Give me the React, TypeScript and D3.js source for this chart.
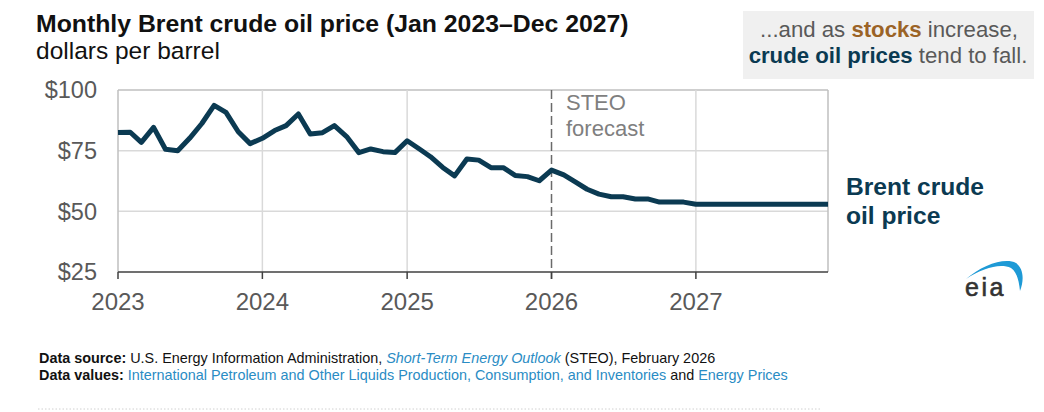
import * as d3 from "d3";

// Brent crude oil spot price, monthly average, dollars per barrel
const historyMonths = d3.timeMonths(new Date(2023, 0, 1), new Date(2026, 1, 1));
const historyPrices = [
  82.5, 82.6, 78.4, 84.6, 75.6, 75.0, 80.1, 86.2, 93.7, 90.8, 82.8, 77.9,
  80.1, 83.3, 85.3, 90.1, 81.9, 82.4, 85.3, 80.8, 74.2, 75.7, 74.6, 74.2,
  79.1, 75.7, 72.5, 68.1, 64.6, 71.6, 71.1, 68.0, 68.0, 64.8, 64.3, 62.6,
  67.0,
];
// STEO forecast, Feb 2026 - Dec 2027
const forecastMonths = d3.timeMonths(new Date(2026, 1, 1), new Date(2028, 0, 1));
const forecastPrices = [
  65.0, 62.2, 59.1, 57.1, 56.0, 56.0, 55.1, 55.1, 53.8, 53.8, 53.8,
  52.9, 52.9, 52.9, 52.9, 52.9, 52.9, 52.9, 52.9, 52.9, 52.9, 52.9, 52.9,
];
const yearTicks = [2023, 2024, 2025, 2026, 2027];
const priceTicks = [25, 50, 75, 100];

const width = 1044;
const height = 412;
const margin = { left: 118, right: 216, top: 90, bottom: 140 };

const navy = "#0b3a52";
const grayText = "#595959";
const linkBlue = "#2a8cc4";
const font = "'Liberation Sans', Arial, sans-serif";

export default function App() {
  const points = [
    ...historyMonths.map((d, i) => ({ date: d, value: historyPrices[i] })),
    ...forecastMonths.map((d, i) => ({ date: d, value: forecastPrices[i] })),
  ];

  const x = d3
    .scaleTime()
    .domain([new Date(2023, 0, 1), new Date(2027, 11, 1)])
    .range([margin.left, width - margin.right]);
  const y = d3
    .scaleLinear()
    .domain([25, 100])
    .range([height - margin.bottom, margin.top]);

  const line = d3
    .line<{ date: Date; value: number }>()
    .x((d) => x(d.date))
    .y((d) => y(d.value));

  const [x0, x1] = x.range();
  const [yb, yt] = y.range();
  const forecastX = x(new Date(2026, 0, 1));

  return (
    <svg
      width={width}
      height={height}
      viewBox={`0 0 ${width} ${height}`}
      style={{ position: "absolute", left: 0, top: 0, background: "#fff" }}
      fontFamily={font}
    >
      {/* titles */}
      <text x={36} y={32} fontSize={24.8} fontWeight="bold" fill="#111">
        Monthly Brent crude oil price (Jan 2023–Dec 2027)
      </text>
      <text x={36} y={59} fontSize={24.5} fill="#111">
        dollars per barrel
      </text>

      {/* annotation box */}
      <rect x={743} y={11} width={291} height={68} fill="#f0f0f0" />
      <text x={889} y={37} fontSize={22.2} textAnchor="middle" fill={grayText}>
        ...and as <tspan fontWeight="bold" fill="#9b6326">stocks</tspan> increase,
      </text>
      <text x={888} y={63} fontSize={22.2} textAnchor="middle" fill={grayText}>
        <tspan fontWeight="bold" fill={navy}>crude oil prices</tspan> tend to fall.
      </text>

      {/* grid */}
      {priceTicks
        .filter((t) => t !== 25)
        .map((t) => (
          <line key={t} x1={x0} x2={x1} y1={y(t)} y2={y(t)} stroke={t === 100 ? "#bfbfbf" : "#d9d9d9"} strokeWidth={1.5} />
        ))}
      {yearTicks
        .filter((yr) => yr !== 2023 && yr !== 2026)
        .map((yr) => {
          const px = x(new Date(yr, 0, 1));
          return <line key={yr} x1={px} x2={px} y1={yt} y2={yb} stroke="#d9d9d9" strokeWidth={1.5} />;
        })}
      <line x1={x0} x2={x0} y1={yt} y2={yb} stroke="#bfbfbf" strokeWidth={1.5} />
      <line x1={x1} x2={x1} y1={yt} y2={yb} stroke="#bfbfbf" strokeWidth={1.5} />

      {/* forecast divider */}
      <line
        x1={forecastX}
        x2={forecastX}
        y1={yt}
        y2={yb + 7}
        stroke="#6a6a6a"
        strokeWidth={1.5}
        strokeDasharray="9,4"
      />
      <text x={566} y={110} fontSize={22} fill="#7f7f7f">STEO</text>
      <text x={566} y={136} fontSize={22} fill="#7f7f7f">forecast</text>

      {/* x axis */}
      <line x1={x0} x2={x1} y1={yb} y2={yb} stroke="#404040" strokeWidth={1.5} />
      {yearTicks.map((yr) => {
        const px = x(new Date(yr, 0, 1));
        return (
          <g key={yr}>
            <line x1={px} x2={px} y1={yb} y2={yb + 7} stroke="#404040" strokeWidth={1.5} />
            <text x={px} y={310} fontSize={24} textAnchor="middle" fill={grayText}>
              {yr}
            </text>
          </g>
        );
      })}

      {/* y axis labels */}
      {priceTicks.map((t) => (
        <text key={t} x={97} y={y(t)} dy="0.36em" fontSize={23.5} textAnchor="end" fill={grayText}>
          ${t}
        </text>
      ))}

      {/* price line */}
      <path d={line(points) ?? ""} fill="none" stroke={navy} strokeWidth={5} strokeLinejoin="round" />

      <text x={846} y={195} fontSize={24.6} fontWeight="bold" fill={navy}>Brent crude</text>
      <text x={846} y={224} fontSize={24.6} fontWeight="bold" fill={navy}>oil price</text>

      {/* logo */}
      <g>
        <path
          d="M966,279 C982,265 1005,257 1016,263 C1024,269 1024,281 1020,291 C1019,281 1017,272 1011,268 C1000,263 983,268 966,279 Z"
          fill="#1e9ad6"
        />
        <text
          x={965}
          y={296}
          fontSize={25}
          letterSpacing={2.5}
          fill="#333"
          stroke="#333"
          strokeWidth={0.6}
        >
          eia
        </text>
      </g>

      {/* source notes */}
      <text x={39} y={363} fontSize={14.4} fill="#111">
        <tspan fontWeight="bold">Data source:</tspan> U.S. Energy Information Administration,{" "}
        <tspan fontStyle="italic" fill={linkBlue}>Short-Term Energy Outlook</tspan> (STEO), February 2026
      </text>
      <text x={39} y={380} fontSize={14.4} fill="#111">
        <tspan fontWeight="bold">Data values:</tspan>{" "}
        <tspan fill={linkBlue}>International Petroleum and Other Liquids Production, Consumption, and Inventories</tspan> and{" "}
        <tspan fill={linkBlue}>Energy Prices</tspan>
      </text>
      <line x1={38} x2={820} y1={409} y2={409} stroke="#d0d0d0" strokeWidth={1} strokeDasharray="1.5,2" />
    </svg>
  );
}
